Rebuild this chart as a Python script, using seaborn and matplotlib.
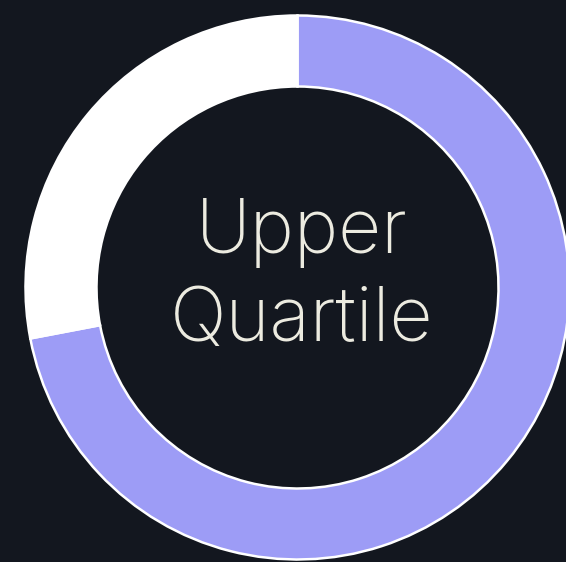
import seaborn as sns
import matplotlib.pyplot as plt

# donut values (percent)
labels = ['Upper Quartile', 'Rest']
values = [72, 28]
colors = ['#9d9cf6', '#ffffff']
center_text = 'Upper\nQuartile'

bg = '#13171f'
sns.set_theme(style='dark', rc={'figure.facecolor': bg, 'axes.facecolor': bg})
plt.rcParams['font.family'] = ['Inter', 'DejaVu Sans']

fig = plt.figure(figsize=(5.66, 5.62), dpi=100)
ax = fig.add_axes([0, 0, 1, 1])
ax.set_facecolor(bg)

ax.pie(values, colors=colors, startangle=90, counterclock=False,
       radius=272, center=(297.5, 274.5), frame=True,
       wedgeprops=dict(width=71, edgecolor='white', linewidth=1.8))

ax.text(302, 285, center_text, ha='center', va='center', fontsize=54,
        fontweight='light', color='#ecebe0', linespacing=1.33)

ax.set_xlim(0, 566)
ax.set_ylim(0, 562)
ax.set_aspect('equal')
ax.axis('off')

fig.savefig('out.png', dpi=100, facecolor=bg)
